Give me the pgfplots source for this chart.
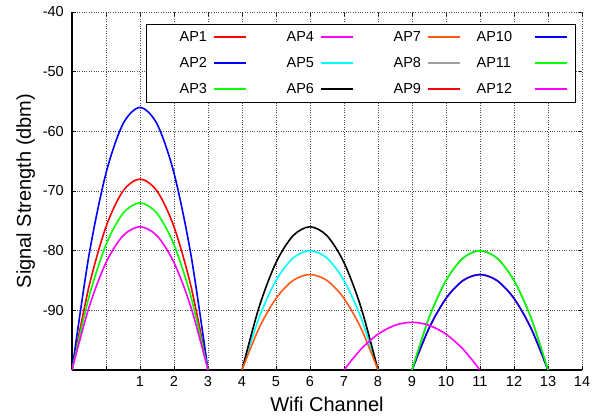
\documentclass[border=0pt]{standalone}
\usepackage{pgfplots}
\pgfplotsset{compat=1.18}
\usepackage{fontspec}
\setmainfont{Liberation Sans}

\definecolor{apred}{RGB}{255,0,0}
\definecolor{apblue}{RGB}{0,0,255}
\definecolor{apgreen}{RGB}{0,255,0}
\definecolor{apmagenta}{RGB}{255,0,255}
\definecolor{apcyan}{RGB}{0,255,255}
\definecolor{aporange}{RGB}{255,90,20}
\definecolor{apgray}{RGB}{160,160,160}

\pgfplotsset{
  wififrame/.style={
    at={(0,0)}, anchor=south west,
    scale only axis,
    width=510pt, height=358pt,
    xmin=-1, xmax=14,
    ymin=-100, ymax=-40,
    tick align=inside,
    major tick length=4pt,
    tick style={line width=0.8pt, black},
    xtick={0,1,2,3,4,5,6,7,8,9,10,11,12,13,14},
    ytick={-90,-80,-70,-60,-50,-40},
  },
}

\begin{document}
\begin{tikzpicture}
% fixed page frame around the plot area
\path[use as bounding box] (-72pt,-49pt) rectangle (530pt,370pt);

% mirrored tick marks along the top and right edges
\begin{axis}[
  wififrame,
  axis x line*=top,
  axis y line*=right,
  axis line style={draw=none},
  xticklabels={}, yticklabels={},
]
\end{axis}

\begin{axis}[
  wififrame,
  axis x line*=bottom,
  axis y line*=left,
  axis line style={line width=1.1pt, -},
  xticklabels={,1,2,3,4,5,6,7,8,9,10,11,12,13,14},
  grid=major,
  major grid style={black!70, line width=0.6pt, dash pattern=on 0.8pt off 1.6pt},
  /pgf/number format/assume math mode=true,
  ticklabel style={font=\fontsize{14.5}{16}\selectfont},
  xticklabel style={anchor=north, inner sep=0pt, yshift=-6pt},
  yticklabel style={anchor=east, inner sep=0pt, xshift=-8pt},
  xlabel={Wifi Channel},
  ylabel={Signal Strength (dbm)},
  label style={font=\fontsize{20}{24}\selectfont},
  xlabel style={at={([yshift=-42pt]axis description cs:0.5,0)}, anchor=base},
  ylabel style={at={([xshift=-41pt]axis description cs:0,0.5)}, anchor=base, rotate=0},
  % three rows, filled column by column
  legend columns=3,
  transpose legend,
  legend image code/.code={\draw[#1, line width=2pt] (0pt,0pt) -- (32pt,0pt);},
  legend plot pos=right,
  legend style={
    at={(1,1)}, anchor=north east, xshift=-6pt, yshift=-12pt,
    draw=black, line width=0.8pt, fill=white,
    inner xsep=8pt, inner ysep=7pt,
    column sep=0pt, row sep=14.5pt,
    nodes={inner sep=0pt},
    font=\fontsize{14.5}{16}\selectfont,
  },
  every axis plot/.append style={line width=1.6pt, smooth},
]

% channel 1
\addplot[apred] coordinates {(-1,-100)(-0.5,-86)(0,-76)(0.5,-70)(1,-68)(1.5,-70)(2,-76)(2.5,-86)(3,-100)};
\addlegendentry{\hspace*{25pt}\makebox[33pt][l]{AP1}}
\addplot[apblue] coordinates {(-1,-100)(-0.5,-80.75)(0,-67)(0.5,-58.75)(1,-56)(1.5,-58.75)(2,-67)(2.5,-80.75)(3,-100)};
\addlegendentry{\hspace*{25pt}\makebox[33pt][l]{AP2}}
\addplot[apgreen] coordinates {(-1,-100)(-0.5,-87.75)(0,-79)(0.5,-73.75)(1,-72)(1.5,-73.75)(2,-79)(2.5,-87.75)(3,-100)};
\addlegendentry{\hspace*{25pt}\makebox[33pt][l]{AP3}}
\addplot[apmagenta] coordinates {(-1,-100)(-0.5,-89.5)(0,-82)(0.5,-77.5)(1,-76)(1.5,-77.5)(2,-82)(2.5,-89.5)(3,-100)};
\addlegendentry{\hspace*{40pt}\makebox[33pt][l]{AP4}}
% channel 6
\addplot[apcyan] coordinates {(4,-100)(4.5,-91.25)(5,-85)(5.5,-81.25)(6,-80)(6.5,-81.25)(7,-85)(7.5,-91.25)(8,-100)};
\addlegendentry{\hspace*{40pt}\makebox[33pt][l]{AP5}}
\addplot[black] coordinates {(4,-100)(4.5,-89.5)(5,-82)(5.5,-77.5)(6,-76)(6.5,-77.5)(7,-82)(7.5,-89.5)(8,-100)};
\addlegendentry{\hspace*{40pt}\makebox[33pt][l]{AP6}}
\addplot[aporange] coordinates {(4,-100)(4.5,-93)(5,-88)(5.5,-85)(6,-84)(6.5,-85)(7,-88)(7.5,-93)(8,-100)};
\addlegendentry{\hspace*{40pt}\makebox[33pt][l]{AP7}}
% channel 11
\addplot[apgray] coordinates {(9,-100)(9.5,-91.25)(10,-85)(10.5,-81.25)(11,-80)(11.5,-81.25)(12,-85)(12.5,-91.25)(13,-100)};
\addlegendentry{\hspace*{40pt}\makebox[33pt][l]{AP8}}
\addplot[apred] coordinates {(9,-100)(9.5,-93)(10,-88)(10.5,-85)(11,-84)(11.5,-85)(12,-88)(12.5,-93)(13,-100)};
\addlegendentry{\hspace*{40pt}\makebox[33pt][l]{AP9}}
\addplot[apblue] coordinates {(9,-100)(9.5,-93)(10,-88)(10.5,-85)(11,-84)(11.5,-85)(12,-88)(12.5,-93)(13,-100)};
\addlegendentry{\hspace*{16pt}\makebox[57pt][l]{AP10}}
\addplot[apgreen] coordinates {(9,-100)(9.5,-91.25)(10,-85)(10.5,-81.25)(11,-80)(11.5,-81.25)(12,-85)(12.5,-91.25)(13,-100)};
\addlegendentry{\hspace*{16pt}\makebox[57pt][l]{AP11}}
% channel 9
\addplot[apmagenta] coordinates {(7,-100)(7.5,-96.5)(8,-94)(8.5,-92.5)(9,-92)(9.5,-92.5)(10,-94)(10.5,-96.5)(11,-100)};
\addlegendentry{\hspace*{16pt}\makebox[57pt][l]{AP12}}
\end{axis}
\end{tikzpicture}
\end{document}
